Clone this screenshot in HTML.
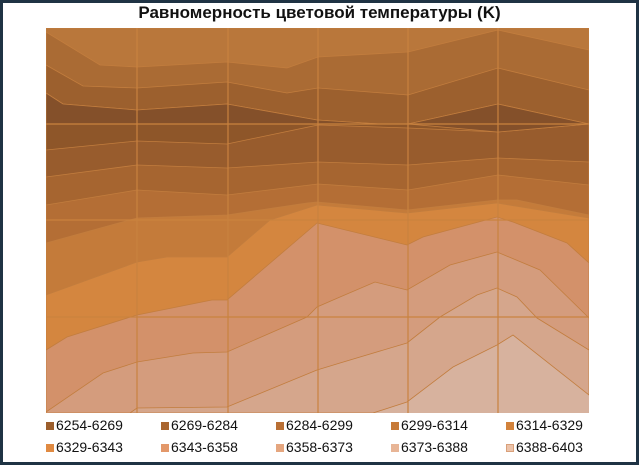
<!DOCTYPE html>
<html><head><meta charset="utf-8"><style>
body{margin:0;width:639px;height:465px;overflow:hidden;background:#fff}
.f{position:absolute;left:0;top:0;width:633px;height:459px;border:3px solid #1f3344;background:#fff}
.t{position:absolute;left:0;width:639px;top:3px;text-align:center;font:bold 17px "Liberation Sans",sans-serif;color:#111}
.lg{position:absolute;font:14px "Liberation Sans",sans-serif;color:#111}
.lg i{display:inline-block;width:8px;height:8px;margin-right:2px}
</style></head><body>
<div class="f"></div>
<div class="t">Равномерность цветовой температуры (K)</div>
<svg style="position:absolute;left:0;top:0" width="639" height="465">
<defs><clipPath id="c"><rect x="46" y="28" width="543" height="385"/></clipPath></defs>
<g clip-path="url(#c)" stroke="#c27d3e" stroke-width="0.8">
<rect x="46" y="28" width="543" height="385" fill="#d7b29e" stroke="none"/>
<polygon fill="#d5a68c" points="46,28 589,28 589,395 513,335 497,345 453,367 407,402 373,413 46,413"/>
<polygon fill="#d49c7d" points="46,28 589,28 589,350 537,318 517,297 497,288 477,295 440,317 407,343 340,363 317,370 227,407 137,408 130,413 46,413"/>
<polygon fill="#d3916a" points="46,28 589,28 589,318 540,270 497,252 450,265 407,290 375,282 340,297 317,307 307,317 227,352 193,353 137,362 103,373 46,412"/>
<polygon fill="#d4863f" points="46,28 589,28 589,263 567,243 513,222 497,217 423,237 407,245 317,223 227,300 212,300 137,315 67,337 46,350"/>
<polygon fill="#c47b3a" points="46,28 589,28 589,218 497,203 407,213 317,205 270,220 227,257 167,257 137,262 46,295"/>
<polygon fill="#b46e35" points="46,28 589,28 589,215 517,200 497,200 407,210 317,202 307,203 227,215 137,218 46,243"/>
<polygon fill="#a66530" points="46,28 589,28 589,185 498,175 408,190 318,184 227,195 137,190 46,205"/>
<polygon fill="#985c2d" points="46,28 589,28 589,162 498,158 408,165 318,162 227,168 137,165 46,177"/>
<polygon fill="#8e5629" points="46,28 589,28 589,124 498,132 408,128 318,125 227,144 137,141 46,150"/>
<polygon fill="#9c602e" points="46,28 589,28 589,124 498,104 408,124 380,124 317,120 227,104 137,110 63,104 46,93"/>
<polygon fill="#84502a" points="46,93 63,104 137,110 227,104 317,120 380,124 46,124"/>
<polygon fill="#84502a" points="408,124 498,104 589,124 498,132"/>
<polygon fill="#aa6b34" points="46,28 589,28 589,90 498,68 408,95 318,88 287,93 227,82 137,88 83,86 46,65"/>
<polygon fill="#b9773b" points="46,28 589,28 589,50 498,30 408,52 318,57 287,68 227,62 137,67 100,65 46,32"/>
</g>
<g stroke="#c9823f" stroke-width="1.2">
<line x1="137" y1="28" x2="137" y2="413"/><line x1="228" y1="28" x2="228" y2="413"/>
<line x1="318" y1="28" x2="318" y2="413"/><line x1="408" y1="28" x2="408" y2="413"/>
<line x1="498" y1="28" x2="498" y2="413"/>
<line x1="46" y1="124" x2="589" y2="124"/><line x1="46" y1="220" x2="589" y2="220"/><line x1="46" y1="317" x2="589" y2="317"/>
</g>
</svg>
<div class="lg" style="left:46px;top:417px"><i style="background:#9c5e2c"></i>6254-6269</div>
<div class="lg" style="left:161px;top:417px"><i style="background:#a9652f"></i>6269-6284</div>
<div class="lg" style="left:276px;top:417px"><i style="background:#b96f34"></i>6284-6299</div>
<div class="lg" style="left:391px;top:417px"><i style="background:#c77a38"></i>6299-6314</div>
<div class="lg" style="left:506px;top:417px"><i style="background:#d2823b"></i>6314-6329</div>
<div class="lg" style="left:46px;top:439px"><i style="background:#e08a42"></i>6329-6343</div>
<div class="lg" style="left:161px;top:439px"><i style="background:#e3986a"></i>6343-6358</div>
<div class="lg" style="left:276px;top:439px"><i style="background:#e5a67f"></i>6358-6373</div>
<div class="lg" style="left:391px;top:439px"><i style="background:#e8b596"></i>6373-6388</div>
<div class="lg" style="left:506px;top:439px"><i style="background:#ecc3aa;border:1px solid #d9a07a;box-sizing:border-box"></i>6388-6403</div>
</body></html>
